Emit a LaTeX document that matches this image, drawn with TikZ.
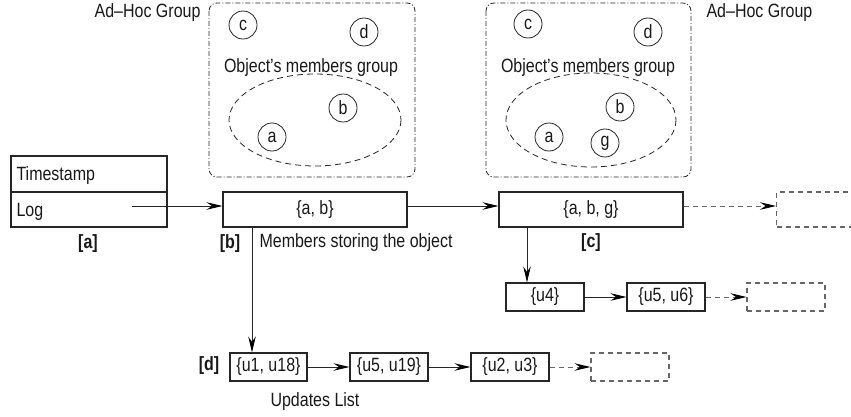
\documentclass[tikz,border=0pt]{standalone}
\usepackage{fontspec}
\usepackage{graphicx}
\setmainfont{Liberation Sans}
\usetikzlibrary{arrows.meta}
\newcommand\vs[1]{\scalebox{1}[1.2]{#1}}
\begin{document}
\begin{tikzpicture}[x=1pt,y=-1pt,
  every node/.style={font=\fontsize{16}{18}\selectfont, text=black!90},
  mem/.style={draw=black!85, circle, minimum size=28pt, inner sep=0pt, line width=0.8pt},
  adhoc/.style={draw=black!85, line width=0.8pt, rounded corners=8pt, dash pattern=on 5pt off 2pt on 1pt off 2pt},
  grp/.style={draw=black!85, line width=0.8pt, dash pattern=on 6pt off 4pt},
  bigbox/.style={draw=black!85, line width=1.1pt, minimum width=184pt, minimum height=35pt, inner sep=0pt},
  smallbox/.style={draw=black!85, line width=1.1pt, minimum width=78pt, minimum height=28pt, inner sep=0pt},
  dbox/.style={draw=black!60, line width=1.1pt, dash pattern=on 5pt off 4pt},
  arr/.style={-{Stealth[length=16pt,width=7.5pt,inset=5.5pt,black]}, draw=black!85, line width=1pt},
  darr/.style={arr, draw=black!60, dash pattern=on 5pt off 4pt},
  lbl/.style={font=\bfseries\fontsize{16}{18}\selectfont}
]
\useasboundingbox (0,0) rectangle (851,417);
\clip (0,0) rectangle (851,417);
\fill[white] (0,0) rectangle (851,417);

% left ad-hoc group
\draw[adhoc] (209,3) rectangle (415,177);
\node[anchor=east] (ahl) at (204,13) {\vs{Ad–Hoc Group}};
\node[mem] (c1) at (243,25) {\vs{c}};
\node[mem] (d1m) at (364,32) {\vs{d}};
\node (og1) at (311,68) {\vs{Object’s members group}};
\draw[grp] (315,120) ellipse [x radius=86, y radius=46];
\node[mem] (b1) at (343,108) {\vs{b}};
\node[mem] (a1) at (272,137) {\vs{a}};

% right ad-hoc group
\draw[adhoc] (486,3) rectangle (691,177);
\node[anchor=west] (ahr) at (703,13) {\vs{Ad–Hoc Group}};
\node[mem] (c2) at (528,24) {\vs{c}};
\node[mem] (d2m) at (648,32) {\vs{d}};
\node (og2) at (588,68) {\vs{Object’s members group}};
\draw[grp] (591,120) ellipse [x radius=85, y radius=47];
\node[mem] (b2) at (620,107) {\vs{b}};
\node[mem] (a2) at (549,137) {\vs{a}};
\node[mem] (g2) at (605,143) {\vs{g}};

% timestamp / log
\draw[draw=black!85, line width=1.1pt] (11,156) rectangle (167,227);
\draw[draw=black!85, line width=1.4pt] (11,192) -- (167,192);
\node[anchor=west] (ts) at (13,176) {\vs{Timestamp}};
\node[anchor=west] (log) at (13,212) {\vs{Log}};
\coordinate (logs) at (132,206);
\node[lbl] (la) at (88,244) {\vs{[a]}};

% main row
\node[bigbox] (bb) at (315,209.5) {\vs{\{a, b\}}};
\node[bigbox] (bc) at (591,209.5) {\vs{\{a, b, g\}}};
\node[dbox, minimum width=90pt, minimum height=35pt, inner sep=0pt, anchor=west] (bn) at (776,209.5) {};
\draw[arr] (logs) -- (logs -| bb.west);
\draw[arr] (logs -| bb.east) -- (logs -| bc.west);
\draw[darr] (logs -| bc.east) -- (logs -| bn.west);

\node[lbl] (lb) at (230,244) {\vs{[b]}};
\node[anchor=west] (mst) at (256,243) {\vs{Members storing the object}};
\node[lbl] (lc) at (591,243) {\vs{[c]}};

% c updates row
\node[smallbox] (u4) at (545,297) {\vs{\{u4\}}};
\node[smallbox] (u56) at (666,297) {\vs{\{u5, u6\}}};
\node[dbox, minimum width=78pt, minimum height=28pt, inner sep=0pt] (un) at (786,297) {};
\coordinate (xc) at (527,0);
\draw[arr] (bc.south -| xc) -- (u4.north -| xc);
\draw[arr] (u4) -- (u56);
\draw[darr] (u56) -- (un);

% b updates row
\node[smallbox, minimum width=77pt] (d1) at (268.5,367) {\vs{\{u1, u18\}}};
\node[smallbox] (d2) at (389,367) {\vs{\{u5, u19\}}};
\node[smallbox] (d3) at (510,367) {\vs{\{u2, u3\}}};
\node[dbox, minimum width=78pt, minimum height=28pt, inner sep=0pt] (d4) at (630,367) {};
\coordinate (xb) at (252,0);
\draw[arr] (bb.south -| xb) -- (d1.north -| xb);
\draw[arr] (d1) -- (d2);
\draw[arr] (d2) -- (d3);
\draw[darr] (d3) -- (d4);
\node[lbl] (ld) at (209,366) {\vs{[d]}};
\node (ul) at (315,402) {\vs{Updates List}};
\end{tikzpicture}
\end{document}
